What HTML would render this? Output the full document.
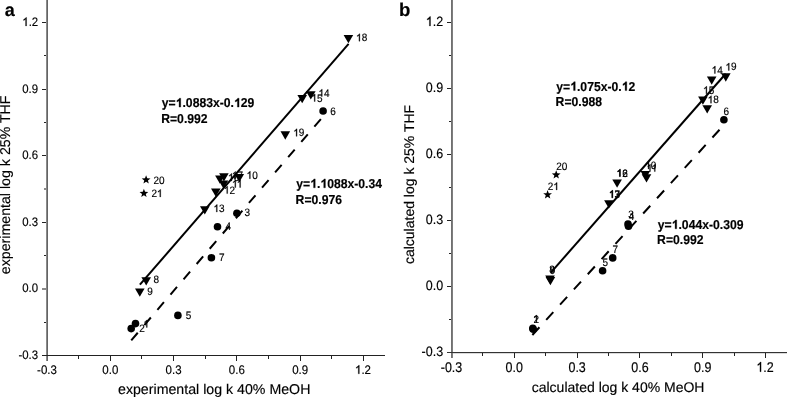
<!DOCTYPE html>
<html><head><meta charset="utf-8"><style>
html,body{margin:0;padding:0;background:#fff;width:787px;height:397px;overflow:hidden;}
svg{display:block;will-change:transform;}
text{font-family:"Liberation Sans",sans-serif;text-rendering:geometricPrecision;}
</style></head><body>
<svg width="787" height="397" viewBox="0 0 787 397">
<rect width="787" height="397" fill="#fff"/>
<rect x="46" y="0" width="1" height="361" fill="#8a8a8a"/>
<rect x="47" y="0" width="1" height="361" fill="#646464"/>
<rect x="42" y="355" width="343" height="1" fill="#222"/>
<rect x="42" y="22" width="4" height="1" fill="#222"/>
<rect x="42" y="89" width="4" height="1" fill="#222"/>
<rect x="42" y="155" width="4" height="1" fill="#222"/>
<rect x="42" y="222" width="4" height="1" fill="#222"/>
<rect x="42" y="288" width="4" height="2" fill="#8a8a8a"/>
<rect x="44" y="55" width="2" height="1" fill="#222"/>
<rect x="44" y="122" width="2" height="1" fill="#222"/>
<rect x="44" y="255" width="2" height="1" fill="#222"/>
<rect x="44" y="322" width="2" height="1" fill="#222"/>
<rect x="44" y="188" width="2" height="2" fill="#8a8a8a"/>
<rect x="110" y="356" width="1" height="5" fill="#222"/>
<rect x="173" y="356" width="1" height="5" fill="#222"/>
<rect x="236" y="356" width="1" height="5" fill="#222"/>
<rect x="300" y="356" width="1" height="5" fill="#222"/>
<rect x="363" y="356" width="1" height="5" fill="#222"/>
<rect x="78" y="356" width="1" height="3" fill="#222"/>
<rect x="141" y="356" width="1" height="3" fill="#222"/>
<rect x="205" y="356" width="1" height="3" fill="#222"/>
<rect x="268" y="356" width="1" height="3" fill="#222"/>
<rect x="331" y="356" width="1" height="3" fill="#222"/>
<text transform="translate(22.33,25.90) scale(1.0,1.08)" font-size="11.4" fill="#000" stroke="#000" stroke-width="0.15"> .2</text>
<path transform="translate(22.33,25.90) scale(1.0,1.08) translate(0.000,0) scale(0.005566,-0.005350)" d="M763,0L583,0L583,1147Q518,1085 422,1028.5Q326,972 223,934L223,1108Q371,1178 482.5,1277Q594,1376 651,1466L763,1466Z" fill="#000" stroke="#000" stroke-width="0.3" vector-effect="non-scaling-stroke"/>
<text transform="translate(22.29,92.90) scale(1.0,1.08)" font-size="11.4" fill="#000" stroke="#000" stroke-width="0.15">0.9</text>
<text transform="translate(22.25,158.90) scale(1.0,1.08)" font-size="11.4" fill="#000" stroke="#000" stroke-width="0.15">0.6</text>
<text transform="translate(22.25,225.90) scale(1.0,1.08)" font-size="11.4" fill="#000" stroke="#000" stroke-width="0.15">0.3</text>
<text transform="translate(22.20,292.30) scale(1.0,1.08)" font-size="11.4" fill="#000" stroke="#000" stroke-width="0.15">0.0</text>
<text transform="translate(18.46,358.90) scale(1.0,1.08)" font-size="11.4" fill="#000" stroke="#000" stroke-width="0.15">-0.3</text>
<text transform="translate(37.10,373.80) scale(1.0,1.08)" font-size="11.5" fill="#000" stroke="#000" stroke-width="0.15">-0.3</text>
<text transform="translate(102.29,373.80) scale(1.0,1.08)" font-size="11.5" fill="#000" stroke="#000" stroke-width="0.15">0.0</text>
<text transform="translate(165.58,373.80) scale(1.0,1.08)" font-size="11.5" fill="#000" stroke="#000" stroke-width="0.15">0.3</text>
<text transform="translate(228.85,373.80) scale(1.0,1.08)" font-size="11.5" fill="#000" stroke="#000" stroke-width="0.15">0.6</text>
<text transform="translate(292.14,373.80) scale(1.0,1.08)" font-size="11.5" fill="#000" stroke="#000" stroke-width="0.15">0.9</text>
<text transform="translate(355.03,373.80) scale(1.0,1.08)" font-size="11.5" fill="#000" stroke="#000" stroke-width="0.15"> .2</text>
<path transform="translate(355.03,373.80) scale(1.0,1.08) translate(0.000,0) scale(0.005615,-0.005397)" d="M763,0L583,0L583,1147Q518,1085 422,1028.5Q326,972 223,934L223,1108Q371,1178 482.5,1277Q594,1376 651,1466L763,1466Z" fill="#000" stroke="#000" stroke-width="0.3" vector-effect="non-scaling-stroke"/>
<text transform="translate(118.00,393.50) scale(1.0,1.0)" font-size="14.2" fill="#000" stroke="#000" stroke-width="0.15">experimental log k 40% MeOH</text>
<g transform="translate(10.3,273.6) rotate(-90)">
<text transform="translate(-0.60,0.00) scale(1.0,1.0)" font-size="14.2" fill="#000" stroke="#000" stroke-width="0.15">experimental log k 25% THF</text>
</g>
<text transform="translate(4.67,15.60) scale(1.0,1.0)" font-size="18" font-weight="bold" fill="#000" stroke="#000" stroke-width="0.15">a</text>
<line x1="139.90" y1="284.70" x2="348.60" y2="43.78" stroke="#000" stroke-width="2"/>
<line x1="131.25" y1="340.34" x2="321.60" y2="118.20" stroke="#000" stroke-width="2" stroke-dasharray="10,10.1"/>
<circle cx="135.5" cy="323.6" r="3.8" fill="#000"/>
<circle cx="131.2" cy="328.6" r="3.8" fill="#000"/>
<circle cx="236.9" cy="213.3" r="3.8" fill="#000"/>
<circle cx="217.5" cy="226.8" r="3.8" fill="#000"/>
<circle cx="177.9" cy="315.4" r="3.8" fill="#000"/>
<circle cx="323.1" cy="111.0" r="3.8" fill="#000"/>
<circle cx="211.4" cy="257.7" r="3.8" fill="#000"/>
<path d="M343.60,35.03L353.20,35.03L348.40,43.34Z" fill="#000"/>
<path d="M306.00,91.23L315.60,91.23L310.80,99.54Z" fill="#000"/>
<path d="M297.40,95.03L307.00,95.03L302.20,103.34Z" fill="#000"/>
<path d="M280.50,131.33L290.10,131.33L285.30,139.64Z" fill="#000"/>
<path d="M200.00,206.23L209.60,206.23L204.80,214.54Z" fill="#000"/>
<path d="M141.40,277.13L151.00,277.13L146.20,285.44Z" fill="#000"/>
<path d="M135.00,288.53L144.60,288.53L139.80,296.84Z" fill="#000"/>
<path d="M219.10,173.23L228.70,173.23L223.90,181.54Z" fill="#000"/>
<path d="M215.10,175.53L224.70,175.53L219.90,183.84Z" fill="#000"/>
<path d="M218.70,180.53L228.30,180.53L223.50,188.84Z" fill="#000"/>
<path d="M234.50,174.03L244.10,174.03L239.30,182.34Z" fill="#000"/>
<path d="M211.00,188.53L220.60,188.53L215.80,196.84Z" fill="#000"/>
<polygon points="146.10,175.30 147.24,178.34 150.47,178.48 147.94,180.50 148.80,183.62 146.10,181.83 143.40,183.62 144.26,180.50 141.73,178.48 144.96,178.34" fill="#000"/>
<polygon points="143.90,188.80 145.04,191.84 148.27,191.98 145.74,194.00 146.60,197.12 143.90,195.33 141.20,197.12 142.06,194.00 139.53,191.98 142.76,191.84" fill="#000"/>
<text transform="translate(356.11,41.20) scale(1.0,1.08)" font-size="10.0" fill="#000" stroke="#000" stroke-width="0.15"> 8</text>
<path transform="translate(356.11,41.20) scale(1.0,1.08) translate(0.000,0) scale(0.004883,-0.004693)" d="M763,0L583,0L583,1147Q518,1085 422,1028.5Q326,972 223,934L223,1108Q371,1178 482.5,1277Q594,1376 651,1466L763,1466Z" fill="#000" stroke="#000" stroke-width="0.3" vector-effect="non-scaling-stroke"/>
<text transform="translate(318.51,96.60) scale(1.0,1.08)" font-size="10.0" fill="#000" stroke="#000" stroke-width="0.15"> 4</text>
<path transform="translate(318.51,96.60) scale(1.0,1.08) translate(0.000,0) scale(0.004883,-0.004693)" d="M763,0L583,0L583,1147Q518,1085 422,1028.5Q326,972 223,934L223,1108Q371,1178 482.5,1277Q594,1376 651,1466L763,1466Z" fill="#000" stroke="#000" stroke-width="0.3" vector-effect="non-scaling-stroke"/>
<text transform="translate(311.41,101.50) scale(1.0,1.08)" font-size="10.0" fill="#000" stroke="#000" stroke-width="0.15"> 5</text>
<path transform="translate(311.41,101.50) scale(1.0,1.08) translate(0.000,0) scale(0.004883,-0.004693)" d="M763,0L583,0L583,1147Q518,1085 422,1028.5Q326,972 223,934L223,1108Q371,1178 482.5,1277Q594,1376 651,1466L763,1466Z" fill="#000" stroke="#000" stroke-width="0.3" vector-effect="non-scaling-stroke"/>
<text transform="translate(293.31,136.30) scale(1.0,1.08)" font-size="10.0" fill="#000" stroke="#000" stroke-width="0.15"> 9</text>
<path transform="translate(293.31,136.30) scale(1.0,1.08) translate(0.000,0) scale(0.004883,-0.004693)" d="M763,0L583,0L583,1147Q518,1085 422,1028.5Q326,972 223,934L223,1108Q371,1178 482.5,1277Q594,1376 651,1466L763,1466Z" fill="#000" stroke="#000" stroke-width="0.3" vector-effect="non-scaling-stroke"/>
<text transform="translate(330.19,114.80) scale(1.0,1.08)" font-size="10.0" fill="#000" stroke="#000" stroke-width="0.15">6</text>
<text transform="translate(213.51,212.00) scale(1.0,1.08)" font-size="10.0" fill="#000" stroke="#000" stroke-width="0.15"> 3</text>
<path transform="translate(213.51,212.00) scale(1.0,1.08) translate(0.000,0) scale(0.004883,-0.004693)" d="M763,0L583,0L583,1147Q518,1085 422,1028.5Q326,972 223,934L223,1108Q371,1178 482.5,1277Q594,1376 651,1466L763,1466Z" fill="#000" stroke="#000" stroke-width="0.3" vector-effect="non-scaling-stroke"/>
<text transform="translate(244.52,216.40) scale(1.0,1.08)" font-size="10.0" fill="#000" stroke="#000" stroke-width="0.15">3</text>
<text transform="translate(225.47,229.70) scale(1.0,1.08)" font-size="10.0" fill="#000" stroke="#000" stroke-width="0.15">4</text>
<text transform="translate(219.09,260.90) scale(1.0,1.08)" font-size="10.0" fill="#000" stroke="#000" stroke-width="0.15">7</text>
<text transform="translate(185.70,318.90) scale(1.0,1.08)" font-size="10.0" fill="#000" stroke="#000" stroke-width="0.15">5</text>
<text transform="translate(153.47,283.20) scale(1.0,1.08)" font-size="10.0" fill="#000" stroke="#000" stroke-width="0.15">8</text>
<text transform="translate(147.33,294.70) scale(1.0,1.08)" font-size="10.0" fill="#000" stroke="#000" stroke-width="0.15">9</text>
<text transform="translate(139.30,331.60) scale(1.0,1.08)" font-size="10.0" fill="#000" stroke="#000" stroke-width="0.15">2</text>
<text transform="translate(143.51,327.40) scale(1.0,1.08)" font-size="10.0" fill="#000" stroke="#000" stroke-width="0.15"> </text>
<path transform="translate(143.51,327.40) scale(1.0,1.08) translate(0.000,0) scale(0.004883,-0.004693)" d="M763,0L583,0L583,1147Q518,1085 422,1028.5Q326,972 223,934L223,1108Q371,1178 482.5,1277Q594,1376 651,1466L763,1466Z" fill="#000" stroke="#000" stroke-width="0.3" vector-effect="non-scaling-stroke"/>
<text transform="translate(153.50,183.50) scale(1.0,1.08)" font-size="10.0" fill="#000" stroke="#000" stroke-width="0.15">20</text>
<text transform="translate(151.40,196.90) scale(1.0,1.08)" font-size="10.0" fill="#000" stroke="#000" stroke-width="0.15">2 </text>
<path transform="translate(151.40,196.90) scale(1.0,1.08) translate(5.562,0) scale(0.004883,-0.004693)" d="M763,0L583,0L583,1147Q518,1085 422,1028.5Q326,972 223,934L223,1108Q371,1178 482.5,1277Q594,1376 651,1466L763,1466Z" fill="#000" stroke="#000" stroke-width="0.3" vector-effect="non-scaling-stroke"/>
<text transform="translate(246.61,178.70) scale(1.0,1.08)" font-size="10.0" fill="#000" stroke="#000" stroke-width="0.15"> 0</text>
<path transform="translate(246.61,178.70) scale(1.0,1.08) translate(0.000,0) scale(0.004883,-0.004693)" d="M763,0L583,0L583,1147Q518,1085 422,1028.5Q326,972 223,934L223,1108Q371,1178 482.5,1277Q594,1376 651,1466L763,1466Z" fill="#000" stroke="#000" stroke-width="0.3" vector-effect="non-scaling-stroke"/>
<text transform="translate(232.01,187.50) scale(1.0,1.08)" font-size="10.0" fill="#000" stroke="#000" stroke-width="0.15">  </text>
<path transform="translate(232.01,187.50) scale(1.0,1.08) translate(0.000,0) scale(0.004883,-0.004693)" d="M763,0L583,0L583,1147Q518,1085 422,1028.5Q326,972 223,934L223,1108Q371,1178 482.5,1277Q594,1376 651,1466L763,1466Z" fill="#000" stroke="#000" stroke-width="0.3" vector-effect="non-scaling-stroke"/>
<path transform="translate(232.01,187.50) scale(1.0,1.08) translate(4.819,0) scale(0.004883,-0.004693)" d="M763,0L583,0L583,1147Q518,1085 422,1028.5Q326,972 223,934L223,1108Q371,1178 482.5,1277Q594,1376 651,1466L763,1466Z" fill="#000" stroke="#000" stroke-width="0.3" vector-effect="non-scaling-stroke"/>
<text transform="translate(223.91,193.60) scale(1.0,1.08)" font-size="10.0" fill="#000" stroke="#000" stroke-width="0.15"> 2</text>
<path transform="translate(223.91,193.60) scale(1.0,1.08) translate(0.000,0) scale(0.004883,-0.004693)" d="M763,0L583,0L583,1147Q518,1085 422,1028.5Q326,972 223,934L223,1108Q371,1178 482.5,1277Q594,1376 651,1466L763,1466Z" fill="#000" stroke="#000" stroke-width="0.3" vector-effect="non-scaling-stroke"/>
<text transform="translate(228.11,181.00) scale(1.0,1.08)" font-size="10.0" fill="#000" stroke="#000" stroke-width="0.15"> 6</text>
<path transform="translate(228.11,181.00) scale(1.0,1.08) translate(0.000,0) scale(0.004883,-0.004693)" d="M763,0L583,0L583,1147Q518,1085 422,1028.5Q326,972 223,934L223,1108Q371,1178 482.5,1277Q594,1376 651,1466L763,1466Z" fill="#000" stroke="#000" stroke-width="0.3" vector-effect="non-scaling-stroke"/>
<text transform="translate(231.91,179.00) scale(1.0,1.08)" font-size="10.0" fill="#000" stroke="#000" stroke-width="0.15"> 7</text>
<path transform="translate(231.91,179.00) scale(1.0,1.08) translate(0.000,0) scale(0.004883,-0.004693)" d="M763,0L583,0L583,1147Q518,1085 422,1028.5Q326,972 223,934L223,1108Q371,1178 482.5,1277Q594,1376 651,1466L763,1466Z" fill="#000" stroke="#000" stroke-width="0.3" vector-effect="non-scaling-stroke"/>
<text transform="translate(161.80,107.10) scale(1.0,1.06)" font-size="12.2" font-weight="bold" fill="#000" stroke="#000" stroke-width="0.15">y= .0883x-0. 29</text>
<path transform="translate(161.80,107.10) scale(1.0,1.06) translate(13.910,0) scale(0.005957,-0.005725)" d="M843,0L562,0L562,1059Q408,915 199,846L199,1101Q309,1137 438,1237.5Q567,1338 615,1466L843,1466Z" fill="#000" stroke="#000" stroke-width="0.3" vector-effect="non-scaling-stroke"/>
<path transform="translate(161.80,107.10) scale(1.0,1.06) translate(72.247,0) scale(0.005957,-0.005725)" d="M843,0L562,0L562,1059Q408,915 199,846L199,1101Q309,1137 438,1237.5Q567,1338 615,1466L843,1466Z" fill="#000" stroke="#000" stroke-width="0.3" vector-effect="non-scaling-stroke"/>
<text transform="translate(161.18,122.80) scale(1.0,1.06)" font-size="12.2" font-weight="bold" fill="#000" stroke="#000" stroke-width="0.15">R=0.992</text>
<text transform="translate(296.30,187.80) scale(1.0,1.06)" font-size="12.2" font-weight="bold" fill="#000" stroke="#000" stroke-width="0.15">y= . 088x-0.34</text>
<path transform="translate(296.30,187.80) scale(1.0,1.06) translate(13.910,0) scale(0.005957,-0.005725)" d="M843,0L562,0L562,1059Q408,915 199,846L199,1101Q309,1137 438,1237.5Q567,1338 615,1466L843,1466Z" fill="#000" stroke="#000" stroke-width="0.3" vector-effect="non-scaling-stroke"/>
<path transform="translate(296.30,187.80) scale(1.0,1.06) translate(24.084,0) scale(0.005957,-0.005725)" d="M843,0L562,0L562,1059Q408,915 199,846L199,1101Q309,1137 438,1237.5Q567,1338 615,1466L843,1466Z" fill="#000" stroke="#000" stroke-width="0.3" vector-effect="non-scaling-stroke"/>
<text transform="translate(295.58,203.60) scale(1.0,1.06)" font-size="12.2" font-weight="bold" fill="#000" stroke="#000" stroke-width="0.15">R=0.976</text>
<rect x="451" y="0" width="1" height="358" fill="#707070"/>
<rect x="452" y="0" width="1" height="358" fill="#7e7e7e"/>
<rect x="447" y="352" width="340" height="1" fill="#333"/>
<rect x="453" y="353" width="334" height="1" fill="#dadada"/>
<rect x="447" y="22" width="4" height="1" fill="#222"/>
<rect x="447" y="88" width="4" height="1" fill="#222"/>
<rect x="447" y="154" width="4" height="1" fill="#222"/>
<rect x="447" y="220" width="4" height="1" fill="#222"/>
<rect x="447" y="286" width="4" height="1" fill="#222"/>
<rect x="449" y="55" width="2" height="1" fill="#222"/>
<rect x="449" y="121" width="2" height="1" fill="#222"/>
<rect x="449" y="187" width="2" height="1" fill="#222"/>
<rect x="449" y="253" width="2" height="1" fill="#222"/>
<rect x="449" y="319" width="2" height="1" fill="#222"/>
<rect x="514" y="353" width="1" height="5" fill="#222"/>
<rect x="577" y="353" width="1" height="5" fill="#222"/>
<rect x="639" y="353" width="1" height="5" fill="#222"/>
<rect x="702" y="353" width="1" height="5" fill="#222"/>
<rect x="765" y="353" width="1" height="5" fill="#222"/>
<rect x="482" y="353" width="1" height="3" fill="#222"/>
<rect x="545" y="353" width="1" height="3" fill="#222"/>
<rect x="608" y="353" width="1" height="3" fill="#222"/>
<rect x="671" y="353" width="1" height="3" fill="#222"/>
<rect x="734" y="353" width="1" height="3" fill="#222"/>
<text transform="translate(425.85,25.90) scale(1.0,1.08)" font-size="12.5" fill="#000" stroke="#000" stroke-width="0.15"> .2</text>
<path transform="translate(425.85,25.90) scale(1.0,1.08) translate(0.000,0) scale(0.006104,-0.005866)" d="M763,0L583,0L583,1147Q518,1085 422,1028.5Q326,972 223,934L223,1108Q371,1178 482.5,1277Q594,1376 651,1466L763,1466Z" fill="#000" stroke="#000" stroke-width="0.3" vector-effect="non-scaling-stroke"/>
<text transform="translate(425.82,91.90) scale(1.0,1.08)" font-size="12.5" fill="#000" stroke="#000" stroke-width="0.15">0.9</text>
<text transform="translate(425.77,157.90) scale(1.0,1.08)" font-size="12.5" fill="#000" stroke="#000" stroke-width="0.15">0.6</text>
<text transform="translate(425.77,223.90) scale(1.0,1.08)" font-size="12.5" fill="#000" stroke="#000" stroke-width="0.15">0.3</text>
<text transform="translate(425.71,289.90) scale(1.0,1.08)" font-size="12.5" fill="#000" stroke="#000" stroke-width="0.15">0.0</text>
<text transform="translate(421.61,355.90) scale(1.0,1.08)" font-size="12.5" fill="#000" stroke="#000" stroke-width="0.15">-0.3</text>
<text transform="translate(440.74,371.70) scale(1.0,1.13)" font-size="12.5" fill="#000" stroke="#000" stroke-width="0.15">-0.3</text>
<text transform="translate(505.61,371.70) scale(1.0,1.13)" font-size="12.5" fill="#000" stroke="#000" stroke-width="0.15">0.0</text>
<text transform="translate(568.43,371.70) scale(1.0,1.13)" font-size="12.5" fill="#000" stroke="#000" stroke-width="0.15">0.3</text>
<text transform="translate(631.22,371.70) scale(1.0,1.13)" font-size="12.5" fill="#000" stroke="#000" stroke-width="0.15">0.6</text>
<text transform="translate(694.03,371.70) scale(1.0,1.13)" font-size="12.5" fill="#000" stroke="#000" stroke-width="0.15">0.9</text>
<text transform="translate(756.41,371.70) scale(1.0,1.13)" font-size="12.5" fill="#000" stroke="#000" stroke-width="0.15"> .2</text>
<path transform="translate(756.41,371.70) scale(1.0,1.13) translate(0.000,0) scale(0.006104,-0.005866)" d="M763,0L583,0L583,1147Q518,1085 422,1028.5Q326,972 223,934L223,1108Q371,1178 482.5,1277Q594,1376 651,1466L763,1466Z" fill="#000" stroke="#000" stroke-width="0.3" vector-effect="non-scaling-stroke"/>
<text transform="translate(531.71,391.60) scale(1.0,1.0)" font-size="14.0" fill="#000" stroke="#000" stroke-width="0.15">calculated log k 40% MeOH</text>
<g transform="translate(413.9,263.5) rotate(-90)">
<text transform="translate(-0.59,0.00) scale(1.0,1.0)" font-size="14.0" fill="#000" stroke="#000" stroke-width="0.15">calculated log k 25% THF</text>
</g>
<text transform="translate(398.97,15.60) scale(1.0,1.0)" font-size="18.6" font-weight="bold" fill="#000" stroke="#000" stroke-width="0.15">b</text>
<line x1="550.80" y1="272.59" x2="725.70" y2="73.77" stroke="#000" stroke-width="2"/>
<line x1="532.36" y1="335.02" x2="723.60" y2="125.27" stroke="#000" stroke-width="2" stroke-dasharray="10.5,10.06"/>
<circle cx="532.8" cy="328.2" r="3.8" fill="#000"/>
<circle cx="533.2" cy="329.3" r="3.8" fill="#000"/>
<circle cx="628.0" cy="224.0" r="3.8" fill="#000"/>
<circle cx="628.5" cy="226.3" r="3.8" fill="#000"/>
<circle cx="602.6" cy="270.7" r="3.8" fill="#000"/>
<circle cx="723.9" cy="119.7" r="3.8" fill="#000"/>
<circle cx="612.7" cy="257.9" r="3.8" fill="#000"/>
<path d="M545.20,275.53L554.80,275.53L550.00,283.84Z" fill="#000"/>
<path d="M545.60,277.03L555.20,277.03L550.40,285.34Z" fill="#000"/>
<path d="M640.50,171.03L650.10,171.03L645.30,179.34Z" fill="#000"/>
<path d="M641.70,174.13L651.30,174.13L646.50,182.44Z" fill="#000"/>
<path d="M612.30,179.53L621.90,179.53L617.10,187.84Z" fill="#000"/>
<path d="M604.10,200.13L613.70,200.13L608.90,208.44Z" fill="#000"/>
<path d="M706.90,76.53L716.50,76.53L711.70,84.84Z" fill="#000"/>
<path d="M698.10,96.43L707.70,96.43L702.90,104.74Z" fill="#000"/>
<path d="M702.40,105.23L712.00,105.23L707.20,113.54Z" fill="#000"/>
<path d="M721.00,73.33L730.60,73.33L725.80,81.64Z" fill="#000"/>
<polygon points="556.20,170.20 557.34,173.24 560.57,173.38 558.04,175.40 558.90,178.52 556.20,176.73 553.50,178.52 554.36,175.40 551.83,173.38 555.06,173.24" fill="#000"/>
<polygon points="547.60,190.10 548.74,193.14 551.97,193.28 549.44,195.30 550.30,198.42 547.60,196.63 544.90,198.42 545.76,195.30 543.23,193.28 546.46,193.14" fill="#000"/>
<text transform="translate(711.61,73.50) scale(1.0,1.08)" font-size="10.0" fill="#000" stroke="#000" stroke-width="0.15"> 4</text>
<path transform="translate(711.61,73.50) scale(1.0,1.08) translate(0.000,0) scale(0.004883,-0.004693)" d="M763,0L583,0L583,1147Q518,1085 422,1028.5Q326,972 223,934L223,1108Q371,1178 482.5,1277Q594,1376 651,1466L763,1466Z" fill="#000" stroke="#000" stroke-width="0.3" vector-effect="non-scaling-stroke"/>
<text transform="translate(725.51,70.40) scale(1.0,1.08)" font-size="10.0" fill="#000" stroke="#000" stroke-width="0.15"> 9</text>
<path transform="translate(725.51,70.40) scale(1.0,1.08) translate(0.000,0) scale(0.004883,-0.004693)" d="M763,0L583,0L583,1147Q518,1085 422,1028.5Q326,972 223,934L223,1108Q371,1178 482.5,1277Q594,1376 651,1466L763,1466Z" fill="#000" stroke="#000" stroke-width="0.3" vector-effect="non-scaling-stroke"/>
<text transform="translate(703.11,93.80) scale(1.0,1.08)" font-size="10.0" fill="#000" stroke="#000" stroke-width="0.15"> 5</text>
<path transform="translate(703.11,93.80) scale(1.0,1.08) translate(0.000,0) scale(0.004883,-0.004693)" d="M763,0L583,0L583,1147Q518,1085 422,1028.5Q326,972 223,934L223,1108Q371,1178 482.5,1277Q594,1376 651,1466L763,1466Z" fill="#000" stroke="#000" stroke-width="0.3" vector-effect="non-scaling-stroke"/>
<text transform="translate(707.71,103.20) scale(1.0,1.08)" font-size="10.0" fill="#000" stroke="#000" stroke-width="0.15"> 8</text>
<path transform="translate(707.71,103.20) scale(1.0,1.08) translate(0.000,0) scale(0.004883,-0.004693)" d="M763,0L583,0L583,1147Q518,1085 422,1028.5Q326,972 223,934L223,1108Q371,1178 482.5,1277Q594,1376 651,1466L763,1466Z" fill="#000" stroke="#000" stroke-width="0.3" vector-effect="non-scaling-stroke"/>
<text transform="translate(723.59,114.50) scale(1.0,1.08)" font-size="10.0" fill="#000" stroke="#000" stroke-width="0.15">6</text>
<text transform="translate(616.61,176.60) scale(1.0,1.08)" font-size="10.0" fill="#000" stroke="#000" stroke-width="0.15"> 6</text>
<path transform="translate(616.61,176.60) scale(1.0,1.08) translate(0.000,0) scale(0.004883,-0.004693)" d="M763,0L583,0L583,1147Q518,1085 422,1028.5Q326,972 223,934L223,1108Q371,1178 482.5,1277Q594,1376 651,1466L763,1466Z" fill="#000" stroke="#000" stroke-width="0.3" vector-effect="non-scaling-stroke"/>
<text transform="translate(616.61,176.60) scale(1.0,1.08)" font-size="10.0" fill="#000" stroke="#000" stroke-width="0.15"> 2</text>
<path transform="translate(616.61,176.60) scale(1.0,1.08) translate(0.000,0) scale(0.004883,-0.004693)" d="M763,0L583,0L583,1147Q518,1085 422,1028.5Q326,972 223,934L223,1108Q371,1178 482.5,1277Q594,1376 651,1466L763,1466Z" fill="#000" stroke="#000" stroke-width="0.3" vector-effect="non-scaling-stroke"/>
<text transform="translate(609.01,197.80) scale(1.0,1.08)" font-size="10.0" fill="#000" stroke="#000" stroke-width="0.15"> 3</text>
<path transform="translate(609.01,197.80) scale(1.0,1.08) translate(0.000,0) scale(0.004883,-0.004693)" d="M763,0L583,0L583,1147Q518,1085 422,1028.5Q326,972 223,934L223,1108Q371,1178 482.5,1277Q594,1376 651,1466L763,1466Z" fill="#000" stroke="#000" stroke-width="0.3" vector-effect="non-scaling-stroke"/>
<text transform="translate(609.01,197.80) scale(1.0,1.08)" font-size="10.0" fill="#000" stroke="#000" stroke-width="0.15"> 7</text>
<path transform="translate(609.01,197.80) scale(1.0,1.08) translate(0.000,0) scale(0.004883,-0.004693)" d="M763,0L583,0L583,1147Q518,1085 422,1028.5Q326,972 223,934L223,1108Q371,1178 482.5,1277Q594,1376 651,1466L763,1466Z" fill="#000" stroke="#000" stroke-width="0.3" vector-effect="non-scaling-stroke"/>
<text transform="translate(645.21,168.90) scale(1.0,1.08)" font-size="10.0" fill="#000" stroke="#000" stroke-width="0.15"> 0</text>
<path transform="translate(645.21,168.90) scale(1.0,1.08) translate(0.000,0) scale(0.004883,-0.004693)" d="M763,0L583,0L583,1147Q518,1085 422,1028.5Q326,972 223,934L223,1108Q371,1178 482.5,1277Q594,1376 651,1466L763,1466Z" fill="#000" stroke="#000" stroke-width="0.3" vector-effect="non-scaling-stroke"/>
<text transform="translate(646.71,171.60) scale(1.0,1.08)" font-size="10.0" fill="#000" stroke="#000" stroke-width="0.15">  </text>
<path transform="translate(646.71,171.60) scale(1.0,1.08) translate(0.000,0) scale(0.004883,-0.004693)" d="M763,0L583,0L583,1147Q518,1085 422,1028.5Q326,972 223,934L223,1108Q371,1178 482.5,1277Q594,1376 651,1466L763,1466Z" fill="#000" stroke="#000" stroke-width="0.3" vector-effect="non-scaling-stroke"/>
<path transform="translate(646.71,171.60) scale(1.0,1.08) translate(4.819,0) scale(0.004883,-0.004693)" d="M763,0L583,0L583,1147Q518,1085 422,1028.5Q326,972 223,934L223,1108Q371,1178 482.5,1277Q594,1376 651,1466L763,1466Z" fill="#000" stroke="#000" stroke-width="0.3" vector-effect="non-scaling-stroke"/>
<text transform="translate(628.32,218.20) scale(1.0,1.08)" font-size="10.0" fill="#000" stroke="#000" stroke-width="0.15">3</text>
<text transform="translate(628.67,219.50) scale(1.0,1.08)" font-size="10.0" fill="#000" stroke="#000" stroke-width="0.15">4</text>
<text transform="translate(612.49,252.80) scale(1.0,1.08)" font-size="10.0" fill="#000" stroke="#000" stroke-width="0.15">7</text>
<text transform="translate(602.50,265.90) scale(1.0,1.08)" font-size="10.0" fill="#000" stroke="#000" stroke-width="0.15">5</text>
<text transform="translate(549.37,273.20) scale(1.0,1.08)" font-size="10.0" fill="#000" stroke="#000" stroke-width="0.15">8</text>
<text transform="translate(549.73,274.20) scale(1.0,1.08)" font-size="10.0" fill="#000" stroke="#000" stroke-width="0.15">9</text>
<text transform="translate(533.11,322.50) scale(1.0,1.08)" font-size="10.0" fill="#000" stroke="#000" stroke-width="0.15"> </text>
<path transform="translate(533.11,322.50) scale(1.0,1.08) translate(0.000,0) scale(0.004883,-0.004693)" d="M763,0L583,0L583,1147Q518,1085 422,1028.5Q326,972 223,934L223,1108Q371,1178 482.5,1277Q594,1376 651,1466L763,1466Z" fill="#000" stroke="#000" stroke-width="0.3" vector-effect="non-scaling-stroke"/>
<text transform="translate(533.50,322.70) scale(1.0,1.08)" font-size="10.0" fill="#000" stroke="#000" stroke-width="0.15">2</text>
<text transform="translate(556.20,169.70) scale(1.0,1.08)" font-size="10.0" fill="#000" stroke="#000" stroke-width="0.15">20</text>
<text transform="translate(547.80,189.90) scale(1.0,1.08)" font-size="10.0" fill="#000" stroke="#000" stroke-width="0.15">2 </text>
<path transform="translate(547.80,189.90) scale(1.0,1.08) translate(5.562,0) scale(0.004883,-0.004693)" d="M763,0L583,0L583,1147Q518,1085 422,1028.5Q326,972 223,934L223,1108Q371,1178 482.5,1277Q594,1376 651,1466L763,1466Z" fill="#000" stroke="#000" stroke-width="0.3" vector-effect="non-scaling-stroke"/>
<text transform="translate(556.30,90.60) scale(1.0,1.06)" font-size="12.2" font-weight="bold" fill="#000" stroke="#000" stroke-width="0.15">y= .075x-0. 2</text>
<path transform="translate(556.30,90.60) scale(1.0,1.06) translate(13.910,0) scale(0.005957,-0.005725)" d="M843,0L562,0L562,1059Q408,915 199,846L199,1101Q309,1137 438,1237.5Q567,1338 615,1466L843,1466Z" fill="#000" stroke="#000" stroke-width="0.3" vector-effect="non-scaling-stroke"/>
<path transform="translate(556.30,90.60) scale(1.0,1.06) translate(65.462,0) scale(0.005957,-0.005725)" d="M843,0L562,0L562,1059Q408,915 199,846L199,1101Q309,1137 438,1237.5Q567,1338 615,1466L843,1466Z" fill="#000" stroke="#000" stroke-width="0.3" vector-effect="non-scaling-stroke"/>
<text transform="translate(555.58,105.80) scale(1.0,1.06)" font-size="12.2" font-weight="bold" fill="#000" stroke="#000" stroke-width="0.15">R=0.988</text>
<text transform="translate(657.80,228.80) scale(1.0,1.06)" font-size="12.2" font-weight="bold" fill="#000" stroke="#000" stroke-width="0.15">y= .044x-0.309</text>
<path transform="translate(657.80,228.80) scale(1.0,1.06) translate(13.910,0) scale(0.005957,-0.005725)" d="M843,0L562,0L562,1059Q408,915 199,846L199,1101Q309,1137 438,1237.5Q567,1338 615,1466L843,1466Z" fill="#000" stroke="#000" stroke-width="0.3" vector-effect="non-scaling-stroke"/>
<text transform="translate(657.08,244.00) scale(1.0,1.06)" font-size="12.2" font-weight="bold" fill="#000" stroke="#000" stroke-width="0.15">R=0.992</text>
</svg>
</body></html>
